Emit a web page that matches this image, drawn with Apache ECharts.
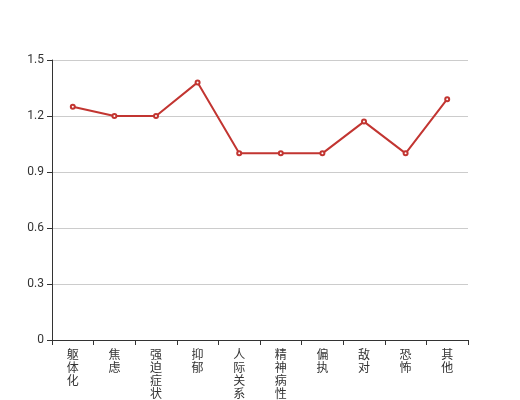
<!DOCTYPE html>
<html><head><meta charset="utf-8">
<script src="https://cdn.jsdelivr.net/npm/echarts@6/dist/echarts.min.js"></script>
<style>html,body{margin:0;padding:0;background:#fff}#c{width:520px;height:400px}</style>
</head><body><div id="c"></div>
<script>
const categories = ['躯体化','焦虑','强迫症状','抑郁','人际关系敏感','精神病性','偏执','敌对','恐怖','其他'];
const values = [1.25, 1.2, 1.2, 1.38, 1.0, 1.0, 1.0, 1.17, 1.0, 1.29];
const yTicks = {min: 0, max: 1.5, interval: 0.3};
const chart = echarts.init(document.getElementById('c'));
chart.setOption({
  animation: false,
  grid: {left: 52, right: 52, top: 60, bottom: 60, containLabel: false, outerBoundsMode: 'none'},
  xAxis: {
    type: 'category', data: categories, boundaryGap: true,
    axisLine: {lineStyle: {color: '#333'}},
    axisTick: {show: true, alignWithLabel: false, lineStyle: {color: '#333'}},
    axisLabel: {color: '#333', fontSize: 12, lineHeight: 13, fontFamily: 'Noto Sans CJK SC',
      formatter: v => v.split('').join('\n')}
  },
  yAxis: {
    type: 'value', min: yTicks.min, max: yTicks.max, interval: yTicks.interval,
    axisLine: {show: true, lineStyle: {color: '#333'}},
    axisTick: {show: true, lineStyle: {color: '#333'}},
    axisLabel: {color: '#333', fontSize: 12, fontFamily: 'Roboto', formatter: v => String(Math.round(v*10)/10)},
    splitLine: {lineStyle: {color: '#ccc'}}
  },
  series: [{
    type: 'line', data: values, symbol: 'emptyCircle', symbolSize: 4,
    itemStyle: {color: '#c23531'}, lineStyle: {color: '#c23531', width: 2}
  }]
});
</script></body></html>
